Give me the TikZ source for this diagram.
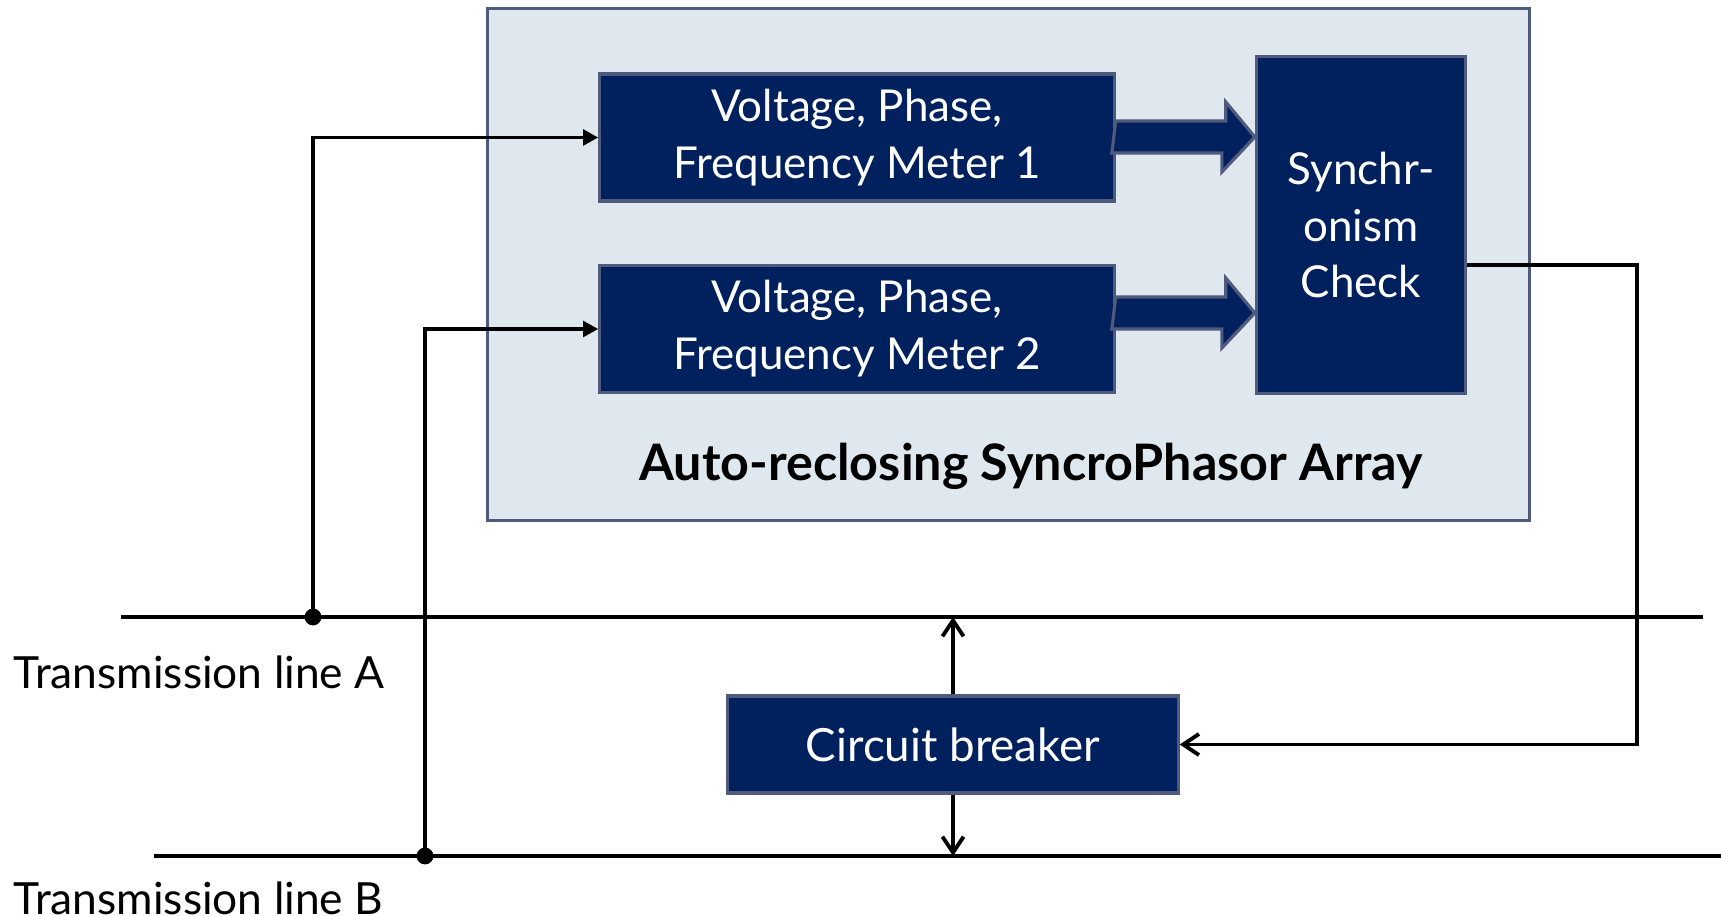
\documentclass[tikz,border=0pt]{standalone}
\usepackage{fontspec}
\setmainfont{Lato}
\usetikzlibrary{arrows.meta,calc,positioning}
\definecolor{navy}{RGB}{1,32,94}
\definecolor{edgegray}{RGB}{80,90,125}
\definecolor{panelblue}{RGB}{222,232,238}

\begin{document}
\begin{tikzpicture}[x=0.01cm, y=-0.01cm,
    block/.style={draw=edgegray, line width=0.9pt, fill=navy, text=white,
        font=\fontsize{12.5}{16.2}\selectfont, align=center, inner sep=0pt},
    wire/.style={line width=1.1pt},
    intip/.style={-{Triangle[length=4.3pt,width=4.4pt]}},
    cbtip/.style={-{Straight Barb[length=4.5pt,width=6pt,line width=1.1pt]}},
    busbar/.style={font=\fontsize{12.6}{15}\selectfont, anchor=base west, inner sep=0pt}]
    \useasboundingbox (0,0) rectangle (1721,916);

    % array panel
    \node[draw=edgegray, line width=0.9pt, fill=panelblue, minimum width=10.41cm,
        minimum height=5.11cm] (panel) at (1008.5,264.5) {};
    \node[font=\fontsize{14.3}{17}\selectfont\bfseries] (title) at (1031,466)
        {Auto-reclosing SyncroPhasor Array};

    \node[block, minimum width=5.14cm, minimum height=1.27cm] (m1) at (857,137.5)
        {Voltage, Phase,\\Frequency Meter 1};
    \node[block, minimum width=5.14cm, minimum height=1.27cm] (m2) at (857,329)
        {Voltage, Phase,\\Frequency Meter 2};
    \node[block, minimum width=2.09cm, minimum height=3.37cm] (sc) at (1361,225)
        {Synchr-\\onism\\Check};
    \node[block, font=\fontsize{13}{16}\selectfont, minimum width=4.5cm,
        minimum height=0.97cm] (cb) at (953,744.5) {Circuit breaker};

    % block arrows
    \foreach \m/\y in {m1/137, m2/313} {
        \draw[edgegray, line width=0.9pt, fill=navy]
            (\m.east |- 0,\y) ++(0,-16) -- ++(110,0) -- ++(0,-19) -- (sc.west |- 0,\y)
            -- ++(-33,35) -- ++(0,-19) -- ++(-110,0) -- cycle;
    }

    % transmission lines
    \coordinate (a0) at (121,617);
    \coordinate (a1) at (1703,617);
    \coordinate (b0) at (154,856);
    \coordinate (b1) at (1721,856);
    \coordinate (jA) at (313,617);
    \coordinate (jB) at (425,856);
    \draw[wire] (a0) -- (a1);
    \draw[wire] (b0) -- (b1);
    \node[busbar] (lineA) at (13,689) {Transmission line A};
    \node[busbar] (lineB) at (13,914) {Transmission line B};

    \fill (jA) circle (2.4pt);
    \fill (jB) circle (2.4pt);
    \draw[wire, intip] (jA) |- (m1.west);
    \draw[wire, intip] (jB) |- (m2.west);

    \draw[wire, cbtip] (cb.north) -- (cb.north |- a0);
    \draw[wire, cbtip] (cb.south) -- (cb.south |- b0);
    \draw[wire, cbtip] ($(sc.east)+(0,40)$) -- ++(170,0) |- (cb.east);
\end{tikzpicture}
\end{document}
